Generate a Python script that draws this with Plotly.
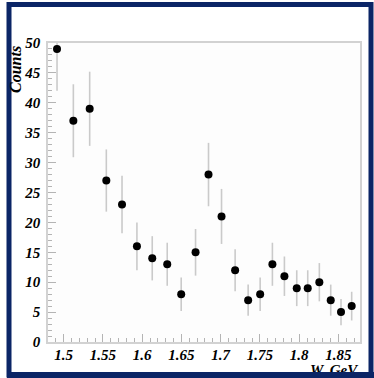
import plotly.graph_objects as go

# Invariant mass bins (GeV), event counts and their statistical errors
w_gev = [1.4915, 1.5123, 1.5331, 1.5543, 1.5743, 1.5933, 1.6128, 1.6319,
         1.6497, 1.6680, 1.6845, 1.7011, 1.7184, 1.7350, 1.7503, 1.7659,
         1.7812, 1.7969, 1.8109, 1.8257, 1.8402, 1.8533, 1.8669]
counts = [49, 37, 39, 27, 23, 16, 14, 13, 8, 15, 28, 21, 12, 7, 8, 13,
          11, 9, 9, 10, 7, 5, 6]
errors = [7.0, 6.1, 6.2, 5.2, 4.8, 4.0, 3.7, 3.6, 2.8, 3.9, 5.3, 4.6, 3.5,
          2.6, 2.8, 3.6, 3.3, 3.0, 3.0, 3.2, 2.6, 2.2, 2.4]

x_ticks = [1.5, 1.55, 1.6, 1.65, 1.7, 1.75, 1.8, 1.85]
x_labels = ["1.5", "1.55", "1.6", "1.65", "1.7", "1.75", "1.8", "1.85"]
y_ticks = [0, 5, 10, 15, 20, 25, 30, 35, 40, 45, 50]
y_labels = ["0", "5", "10", "15", "20", "25", "30", "35", "40", "45", "50"]

x_range = [1.48, 1.8775]
y_range = [0, 50]

W, H = 374, 378
ML, MR, MT, MB = 48, 14, 43, 36
PW, PH = W - ML - MR, H - MT - MB

NAVY = "#0b2566"
FRAME = "#d2d2d2"
TICK = "#b4b4b4"
font_label = dict(family="Liberation Serif", size=15, color="black")


def px_x(p):
    return (p - ML) / PW


def px_y(p):
    return (H - MB - p) / PH


def bold_italic(s):
    return f"<b><i>{s}</i></b>"


fig = go.Figure()
fig.add_trace(go.Scatter(
    x=w_gev, y=counts, mode="markers",
    marker=dict(color="black", size=8),
    error_y=dict(type="data", array=errors, visible=True,
                 color="#cacaca", thickness=1.6, width=0),
    showlegend=False,
))

axis_common = dict(
    showgrid=False, zeroline=False, showline=True, mirror=True,
    linecolor=FRAME, linewidth=1.5,
    ticks="inside", tickcolor=TICK, tickwidth=1, ticklen=8,
    tickfont=font_label,
)

fig.update_xaxes(range=x_range, tickmode="array", tickvals=x_ticks,
                 ticktext=[bold_italic(s) for s in x_labels],
                 ticklabelstandoff=-2,
                 minor=dict(tick0=1.5, dtick=0.01, ticks="inside", ticklen=4,
                            tickcolor=TICK, tickwidth=1),
                 **axis_common)
fig.update_yaxes(range=y_range, tickmode="array", tickvals=y_ticks,
                 ticktext=[bold_italic(s) for s in y_labels],
                 ticklabelstandoff=3,
                 minor=dict(tick0=0, dtick=1, ticks="inside", ticklen=4,
                            tickcolor=TICK, tickwidth=1),
                 **axis_common)

# Outer navy frame of the canvas
fig.add_shape(type="rect", xref="paper", yref="paper",
              x0=px_x(9), x1=px_x(371), y0=px_y(375), y1=px_y(4.5),
              line=dict(color=NAVY, width=5), fillcolor="rgba(0,0,0,0)",
              layer="above")

annotations = [
    dict(text=bold_italic("Counts"), textangle=-90, xref="paper",
         yref="paper", x=px_x(15.5), y=px_y(44), xanchor="center",
         yanchor="top", showarrow=False,
         font=dict(family="Liberation Serif", size=16, color="black")),
    dict(text=bold_italic("W, GeV"), xref="paper", yref="paper",
         x=px_x(361), y=px_y(369.5), xanchor="right", yanchor="middle",
         showarrow=False, font=font_label),
    # bottom strip of the frame, drawn over the axis title
    dict(text=" ", xref="paper", yref="paper",
         x=px_x(6.5), y=px_y(372), xanchor="left", yanchor="top",
         width=W - 6.5, height=6, bgcolor=NAVY, borderpad=0, borderwidth=0,
         showarrow=False, font=dict(size=1)),
]

fig.update_layout(
    width=W, height=H,
    margin=dict(l=ML, r=MR, t=MT, b=MB),
    paper_bgcolor="white", plot_bgcolor="#fdfdfd",
    annotations=annotations,
)

fig.write_html("out.html")
